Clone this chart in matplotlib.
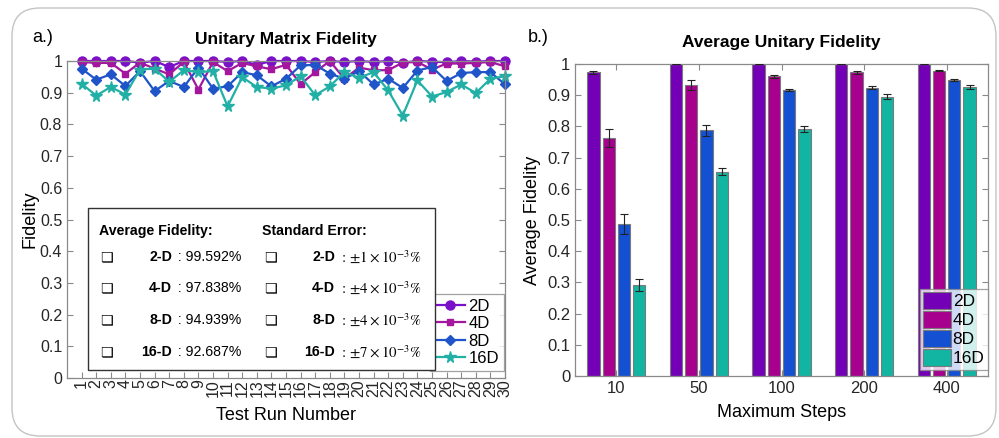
import matplotlib
matplotlib.use("Agg")
import matplotlib.pyplot as plt
import numpy as np
from matplotlib.patches import FancyBboxPatch, Rectangle

plt.rcParams['font.family'] = ['Liberation Sans', 'DejaVu Sans']
plt.rcParams['mathtext.fontset'] = 'stix'

# ---- data: left panel (fidelity per test run) ----
runs = list(range(1, 31))
fid_2d = [1.0, 1.0, 1.0, 1.0, 0.995, 1.0, 0.981, 1.0, 1.0, 1.0,
          0.997, 1.0, 0.988, 1.0, 1.0, 1.0, 0.997, 1.0, 0.997, 1.0,
          0.997, 1.0, 0.995, 1.0, 0.998, 0.996, 1.0, 0.998, 1.0, 1.0]
fid_4d = [0.997, 0.994, 0.994, 0.960, 0.995, 0.976, 0.958, 0.997, 0.910, 0.997,
          0.968, 0.994, 0.983, 0.974, 0.988, 0.927, 0.965, 1.0, 0.944, 0.979,
          0.971, 0.971, 0.995, 0.997, 0.973, 0.992, 0.992, 0.994, 0.997, 0.983]
fid_8d = [0.976, 0.941, 0.958, 0.921, 0.968, 0.905, 0.937, 0.918, 0.979, 0.913,
          0.920, 0.965, 0.955, 0.920, 0.944, 0.986, 0.988, 0.960, 0.944, 0.968,
          0.926, 0.944, 0.915, 0.970, 0.981, 0.937, 0.962, 0.965, 0.965, 0.926]
fid_16d = [0.928, 0.891, 0.918, 0.894, 0.973, 0.976, 0.934, 0.971, 0.965, 0.968,
           0.857, 0.949, 0.918, 0.913, 0.923, 0.952, 0.892, 0.920, 0.965, 0.947,
           0.965, 0.907, 0.828, 0.939, 0.888, 0.902, 0.926, 0.899, 0.944, 0.952]

avg_labels = ['2-D', '4-D', '8-D', '16-D']
avg_values = [': 99.592%', ': 97.838%', ': 94.939%', ': 92.687%']
err_values = [r': $\pm1\times10^{-3}$%', r': $\pm4\times10^{-3}$%',
              r': $\pm4\times10^{-3}$%', r': $\pm7\times10^{-3}$%']

# ---- data: right panel (average fidelity vs max steps) ----
steps = ['10', '50', '100', '200', '400']
avg_2d = [0.973, 0.999, 1.0, 0.999, 0.999]
avg_4d = [0.762, 0.934, 0.961, 0.973, 0.979]
avg_8d = [0.487, 0.787, 0.918, 0.924, 0.950]
avg_16d = [0.292, 0.655, 0.791, 0.895, 0.927]
err_2d = [0.004, 0.0, 0.0, 0.0, 0.0]
err_4d = [0.029, 0.016, 0.005, 0.005, 0.003]
err_8d = [0.032, 0.019, 0.003, 0.005, 0.003]
err_16d = [0.020, 0.012, 0.010, 0.008, 0.007]

series_names = ['2D', '4D', '8D', '16D']
line_colors = ['#7A10C8', '#A5169E', '#1F55C9', '#22B0A6']
bar_colors = ['#7300B6', '#A8008E', '#1450D2', '#12B5A2']
markers = ['o', 's', 'D', '*']
msizes = [6.5, 5, 5.5, 8.5]

W, H = 999, 438
fig = plt.figure(figsize=(W / 100, H / 100), dpi=100)

# rounded frame around the whole figure
bg = fig.add_axes([0, 0, 1, 1], zorder=-5)
bg.set_xlim(0, W)
bg.set_ylim(H, 0)
bg.axis('off')
bg.add_patch(FancyBboxPatch((12, 8), 984, 428, boxstyle="round,pad=0,rounding_size=28",
                            fill=False, ec='#c4c4c4', lw=1.0))


def style_axes(ax):
	for s in ax.spines.values():
		s.set_color('#8a8a8a')
		s.set_linewidth(0.9)
	ax.tick_params(direction='in', top=True, right=True, colors='#8a8a8a',
	               labelcolor='#262626', labelsize=11.5, length=4)


def px(x0, y0, x1, y1):
	return [x0 / W, 1 - y1 / H, (x1 - x0) / W, (y1 - y0) / H]


# ---- left panel ----
ax1 = fig.add_axes(px(67, 61, 505, 378))
fids = [fid_2d, fid_4d, fid_8d, fid_16d]
for vals, name, c, m, ms in zip(fids, series_names, line_colors, markers, msizes):
	ax1.plot(runs, vals, color=c, marker=m, markersize=ms, lw=1.6, label=name, clip_on=False)
ax1.set_xlim(0, 30)
ax1.set_ylim(0, 1)
ax1.set_xticks(runs)
ax1.set_xticklabels([str(r) for r in runs], rotation=90, fontsize=11)
ax1.set_yticks(np.arange(0, 1.01, 0.1))
ax1.set_yticklabels(['0'] + ['%.1f' % v for v in np.arange(0.1, 0.95, 0.1)] + ['1'])
style_axes(ax1)
ax1.tick_params(axis='x', pad=1)
ax1.set_xlabel('Test Run Number', fontsize=13, labelpad=7)
ax1.set_ylabel('Fidelity', fontsize=13, labelpad=1)
ax1.set_title('Unitary Matrix Fidelity', fontsize=12.5, fontweight='bold', pad=12)
leg1 = ax1.legend(loc='lower right', bbox_to_anchor=(0.998, 0.022), borderaxespad=0,
                  fontsize=12, frameon=True, fancybox=False, handlelength=1.8,
                  handletextpad=0.2, labelspacing=0.15, borderpad=0.3)
leg1.get_frame().set_edgecolor('#8a8a8a')
leg1.get_frame().set_linewidth(0.9)

# summary box
fig.add_artist(Rectangle((88 / W, 1 - 370 / H), (435 - 88) / W, (370 - 208) / H,
                         transform=fig.transFigure, fill=True, fc='white',
                         ec='#333333', lw=1.0, zorder=5))
fs = 10.2
fig.text(99 / W, 1 - 231 / H, 'Average Fidelity:', fontsize=fs, fontweight='bold',
         va='center', zorder=6)
fig.text(262 / W, 1 - 231 / H, 'Standard Error:', fontsize=fs, fontweight='bold',
         va='center', zorder=6)
row_y = [257, 288, 320, 352]
for lab, av, ev, y in zip(avg_labels, avg_values, err_values, row_y):
	fy = 1 - y / H
	fig.text(100 / W, fy, '\u274f', fontsize=fs, va='center', zorder=6,
	         family=['DejaVu Sans'])
	fig.text(172 / W, fy, lab, fontsize=fs, fontweight='bold', ha='right', va='center', zorder=6)
	fig.text(174 / W, fy, ' ' + av, fontsize=fs, va='center', zorder=6)
	fig.text(264 / W, fy, '\u274f', fontsize=fs, va='center', zorder=6,
	         family=['DejaVu Sans'])
	fig.text(335 / W, fy, lab, fontsize=fs, fontweight='bold', ha='right', va='center', zorder=6)
	fig.text(338 / W, fy, ' ' + ev, fontsize=fs + 0.5, va='center', zorder=6,
	         family=['STIXGeneral', 'DejaVu Serif'])

fig.text(32 / W, 1 - 38 / H, 'a.)', fontsize=13, va='center')
fig.text(528 / W, 1 - 38 / H, 'b.)', fontsize=13, va='center')

# ---- right panel ----
ax2 = fig.add_axes(px(575, 64, 988, 376))
x = np.arange(1, len(steps) + 1)
avgs = [avg_2d, avg_4d, avg_8d, avg_16d]
errs = [err_2d, err_4d, err_8d, err_16d]
bw = 0.15
offsets = [-0.277, -0.092, 0.092, 0.277]
for vals, e, name, c, off in zip(avgs, errs, series_names, bar_colors, offsets):
	ax2.bar(x + off, vals, width=bw, color=c, edgecolor='#7a7a7a', linewidth=0.8,
	        label=name, zorder=2)
	ax2.errorbar(x + off, vals, yerr=e, fmt='none', ecolor='#222222', elinewidth=0.8,
	             capsize=3, capthick=0.8, zorder=3)
ax2.set_xlim(0.5, 5.5)
ax2.set_ylim(0, 1)
ax2.set_xticks(x)
ax2.set_xticklabels(steps)
ax2.set_yticks(np.arange(0, 1.01, 0.1))
ax2.set_yticklabels(['0'] + ['%.1f' % v for v in np.arange(0.1, 0.95, 0.1)] + ['1'])
style_axes(ax2)
ax2.tick_params(labelsize=12)
ax2.set_xlabel('Maximum Steps', fontsize=13, labelpad=6)
ax2.set_ylabel('Average Fidelity', fontsize=13, labelpad=4)
ax2.set_title('Average Unitary Fidelity', fontsize=12.5, fontweight='bold', pad=12)
leg2 = ax2.legend(loc='lower right', bbox_to_anchor=(1.0, 0.02), borderaxespad=0,
                  fontsize=12.5, frameon=True, fancybox=False, handlelength=1.6,
                  handleheight=1.1, handletextpad=0.1, labelspacing=0.1, borderpad=0.2)
leg2.get_frame().set_edgecolor('#8a8a8a')
leg2.get_frame().set_linewidth(0.9)

fig.savefig('out.png', dpi=100)
